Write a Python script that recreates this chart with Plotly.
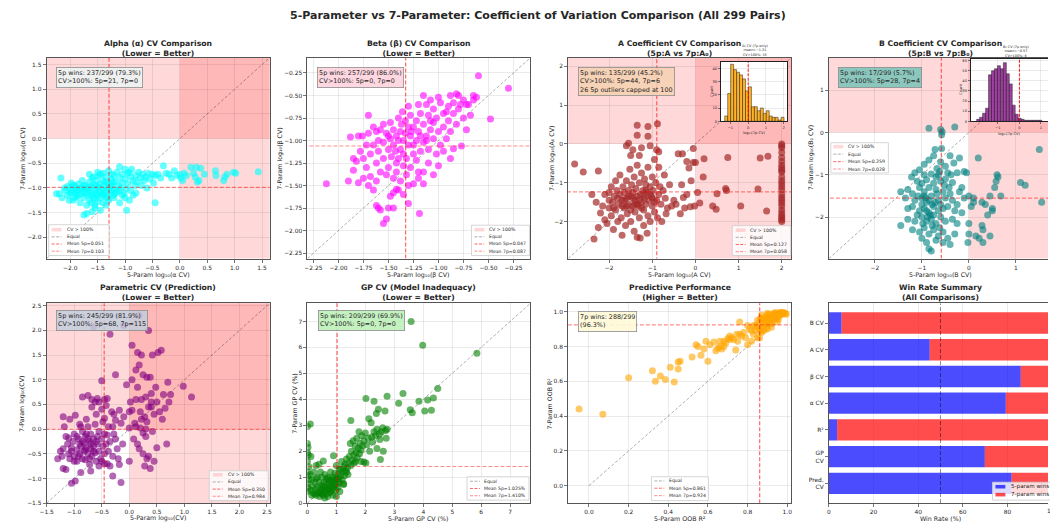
import math
import plotly.graph_objects as go

W, H = 1050, 525
FONT = "DejaVu Sans"
TXT = "#262626"
SPINE = "#555555"

# ------------------------------------------------------------------ data
alpha_pts = [(-2.2,-1.12),(-2.25,-1.12),(-2.17,-0.8),(-2.15,-1.2),(-2.1,-1.0),(-2.1,-1.05),(-2.05,-0.97),(-2.05,-1.15),(-2.0,-1.02),(-2.0,-1.1),
 (-1.98,-0.9),(-1.95,-1.05),(-1.95,-1.25),(-1.92,-0.95),(-1.9,-1.1),(-1.9,-1.0),(-1.88,-1.18),(-1.85,-0.92),(-1.85,-1.05),(-1.82,-1.3),
 (-1.8,-1.0),(-1.8,-1.12),(-1.78,-0.85),(-1.75,-1.08),(-1.75,-1.2),(-1.75,-1.55),(-1.72,-0.95),(-1.7,-1.02),(-1.7,-1.52),(-1.7,-1.35),
 (-1.68,-1.15),(-1.65,-0.88),(-1.65,-1.05),(-1.65,-1.25),(-1.62,-0.98),(-1.6,-1.1),(-1.6,-1.48),(-1.6,-0.8),(-1.58,-1.2),(-1.55,-0.95),
 (-1.55,-1.05),(-1.55,-1.35),(-1.52,-0.85),(-1.5,-1.0),(-1.5,-1.15),(-1.5,-1.28),(-1.48,-0.75),(-1.47,-1.08),(-1.45,-0.72),(-1.45,-0.92),
 (-1.45,-1.2),(-1.45,-1.45),(-1.42,-1.02),(-1.4,-0.7),(-1.4,-0.85),(-1.4,-1.12),(-1.4,-1.3),(-1.38,-0.95),(-1.35,-1.05),(-1.35,-0.78),
 (-1.35,-1.18),(-1.32,-0.9),(-1.3,-1.0),(-1.3,-1.25),(-1.3,-0.65),(-1.28,-1.1),(-1.25,-0.82),(-1.25,-0.95),(-1.22,-1.15),(-1.2,-1.02),
 (-1.2,-0.75),(-1.18,-0.88),(-1.15,-1.08),(-1.15,-0.68),(-1.12,-0.95),(-1.1,-0.57),(-1.1,-0.8),(-1.1,-1.3),(-1.08,-1.0),(-1.05,-0.72),
 (-1.05,-0.9),(-1.02,-1.12),(-1.0,-0.62),(-1.0,-0.82),(-1.0,-1.2),(-0.98,-1.02),(-0.97,-1.45),(-0.95,-0.7),(-0.95,-0.92),(-0.92,-1.25),
 (-0.9,-0.78),(-0.9,-1.05),(-0.88,-0.62),(-0.85,-0.85),(-0.85,-1.15),(-0.82,-0.95),(-0.8,-0.75),(-0.8,-1.1),(-0.78,-0.88),(-0.75,-0.68),
 (-0.72,-0.8),(-0.7,-0.95),(-0.68,-0.72),(-0.65,-0.85),(-0.62,-0.78),(-0.6,-1.0),(-0.58,-0.7),(-0.55,-0.82),(-0.5,-0.72),(-0.48,-0.9),
 (-0.45,-1.3),(-0.45,-0.75),(-0.4,-0.72),(-0.35,-0.8),(-0.3,-0.55),(-0.25,-0.7),(-0.2,-0.72),(-0.15,-0.8),(-0.1,-0.65),(-0.05,-0.75),
 (0.0,-0.72),(0.05,-0.85),(0.08,-0.7),(0.12,-0.75),(0.2,-0.58),(0.25,-0.7),(0.28,-0.78),(0.3,-0.58),(0.32,-0.88),(0.35,-0.85),
 (0.38,-0.6),(0.45,-0.72),(0.65,-0.65),(0.66,-0.75),(0.8,-0.85),(0.82,-0.78),(0.86,-0.72),(0.98,-0.68),(1.02,-0.7),(1.43,-0.67),(0.02,-0.8),
 (-1.95,-0.95),(-1.88,-1.05),(-1.78,-1.0),(-1.72,-1.1),(-1.68,-1.0),(-1.62,-1.15),(-1.58,-0.92),(-1.52,-1.1),(-1.48,-0.98),(-1.42,-1.15),
 (-1.38,-1.08),(-1.35,-0.88),(-1.32,-1.2),(-1.28,-0.95),(-1.25,-1.05),(-1.22,-0.88),(-1.18,-1.1),(-1.12,-1.05),(-1.62,-1.3),(-1.55,-1.22),
 (-1.85,-1.15),(-2.02,-1.25),(-1.92,-1.2),(-1.98,-1.1),(-1.75,-0.95),(-1.55,-1.4),(-1.35,-1.35),(-1.2,-1.2),(-1.05,-1.15),(-1.65,-0.72),
 (-1.58,-0.78),(-1.5,-0.68),(-1.25,-0.72),(-0.92,-0.68)]

beta_pts = [(-2.12,-1.48),(-1.88,-0.96),(-1.9,-1.45),(-1.8,-1.47),(-1.82,-1.23),(-1.85,-1.33),(-1.78,-1.12),(-1.76,-0.95),(-1.72,-1.05),(-1.7,-0.72),
 (-1.68,-1.4),(-1.65,-1.55),(-1.62,-1.72),(-1.6,-1.75),(-1.58,-1.77),(-1.55,-1.92),(-1.52,-1.87),(-1.5,-1.75),(-1.48,-1.62),(-1.45,-1.58),
 (-1.42,-1.54),(-1.4,-1.55),(-1.35,-1.6),(-1.3,-1.5),(-1.25,-1.48),(-1.19,-1.81),(-1.2,-1.35),(-1.15,-1.35),(-0.6,-0.28),(-0.3,-0.42),
 (-0.48,-0.76),(-0.77,-1.06),(-0.85,-1.09),(-0.65,-0.5),(-0.65,-0.55),(-0.68,-0.72),(-0.72,-0.6),(-0.75,-0.55),(-0.78,-0.6),(-0.8,-0.5),
 (-0.82,-0.48),(-0.85,-0.58),(-0.88,-0.5),(-0.9,-0.62),(-0.92,-0.68),(-0.95,-0.7),(-0.98,-0.58),(-1.0,-0.52),(-1.02,-0.75),(-1.05,-0.8),
 (-1.05,-0.65),(-1.08,-0.88),(-1.1,-0.72),(-1.12,-0.6),(-1.12,-0.95),(-1.15,-0.82),(-1.18,-0.7),(-1.2,-0.9),(-1.22,-0.78),(-1.22,-1.0),
 (-1.25,-0.85),(-1.25,-1.15),(-1.28,-0.72),(-1.28,-0.95),(-1.3,-1.05),(-1.3,-0.85),(-1.32,-1.2),(-1.33,-0.78),(-1.33,-0.92),(-1.35,-1.0),
 (-1.35,-1.28),(-1.36,-0.68),(-1.38,-1.1),(-1.38,-0.9),(-1.4,-1.0),(-1.4,-1.2),(-1.42,-0.95),(-1.42,-1.35),(-1.45,-1.05),(-1.45,-0.88),
 (-1.47,-1.18),(-1.48,-0.98),(-1.5,-1.1),(-1.5,-1.3),(-1.52,-0.92),(-1.55,-1.02),(-1.55,-1.2),(-1.58,-0.88),(-1.58,-1.35),(-1.6,-1.12),
 (-1.62,-0.9),(-1.62,-1.25),(-1.65,-1.05),(-1.68,-1.15),(-1.7,-0.92),(-1.72,-1.3),(-1.75,-1.2),(-1.6,-1.0),(-1.52,-1.38),(-1.45,-1.42),
 (-1.38,-1.45),(-1.32,-1.38),(-1.28,-1.3),(-1.22,-1.22),(-1.18,-1.12),(-1.15,-1.02),(-1.1,-1.1),(-1.05,-0.98),(-1.02,-1.15),(-1.0,-0.9),
 (-0.98,-1.05),(-0.95,-0.85),(-0.92,-0.98),(-0.9,-0.78),(-0.88,-0.9),(-0.85,-0.7),(-0.82,-0.82),(-0.8,-0.65),(-0.75,-0.75),(-0.7,-0.6),
 (-1.08,-0.55),(-1.15,-0.5),(-1.2,-0.6),(-1.3,-0.62),(-1.4,-0.75),(-1.48,-0.8),(-1.55,-0.82),(-1.65,-0.85),(-1.8,-0.95),(-1.85,-1.2),
 (-1.75,-1.42),(-1.7,-1.5),(-1.42,-1.25),(-1.35,-1.15),(-1.25,-1.05),(-1.2,-1.42),(-1.1,-1.25),(-1.0,-1.28),(-1.3,-1.7),(-1.45,-1.75),
 (-1.62,-1.45),(-1.12,-1.0),(-0.95,-1.12),(-1.27,-0.9),(-1.37,-0.82),(-1.43,-1.12),(-1.5,-0.95),(-1.18,-0.95),(-1.08,-0.78),(-0.62,-0.52),
 (-0.72,-0.88),(-0.88,-1.2),(-1.15,-1.48),(-1.05,-1.38)]

acoef_pts = [(-2.8,-0.52),(-2.6,-0.72),(-2.4,-1.3),(-2.35,-2.45),(-2.3,-1.5),(-2.25,-0.7),(-2.2,-1.78),(-2.15,-1.6),(-2.1,-1.95),(-2.05,-2.05),
 (-2.0,-1.65),(-2.0,-1.25),(-1.95,-1.1),(-1.95,-1.85),(-1.92,-1.5),(-1.9,-2.2),(-1.88,-1.35),(-1.85,-0.95),(-1.85,-1.7),(-1.82,-1.2),
 (-1.8,-2.0),(-1.78,-1.55),(-1.75,-1.3),(-1.75,-0.8),(-1.72,-1.9),(-1.7,-1.45),(-1.7,-2.35),(-1.68,-1.1),(-1.65,-1.65),(-1.65,-1.25),
 (-1.62,-2.1),(-1.6,-1.4),(-1.6,-0.95),(-1.58,-1.8),(-1.55,-1.2),(-1.55,-1.55),(-1.52,-0.65),(-1.5,-1.35),(-1.5,-2.0),(-1.48,-1.05),
 (-1.45,-1.6),(-1.45,-1.25),(-1.42,-2.25),(-1.42,-0.85),(-1.4,-1.45),(-1.4,-1.75),(-1.38,-1.15),(-1.35,-2.4),(-1.35,-1.35),(-1.35,-0.55),
 (-1.32,-1.6),(-1.3,-1.0),(-1.3,-1.9),(-1.28,-1.3),(-1.28,-2.42),(-1.25,-1.5),(-1.25,-0.75),(-1.22,-1.2),(-1.2,-1.7),(-1.2,-2.1),
 (-1.18,-1.4),(-1.18,-0.9),(-1.15,-1.05),(-1.15,-1.55),(-1.12,-1.25),(-1.12,-2.3),(-1.1,-1.85),(-1.1,-0.6),(-1.08,-1.45),(-1.05,-1.1),
 (-1.05,-2.0),(-1.02,-1.35),(-1.0,-0.85),(-1.0,-1.6),(-0.98,-1.2),(-0.95,-1.75),(-0.95,-0.4),(-0.92,-1.0),(-0.9,-1.45),(-0.9,-0.15),
 (-0.88,-1.9),(-0.85,-1.3),(-0.85,-0.6),(-0.82,-1.1),(-0.8,-1.55),(-0.78,-2.0),(-0.75,-1.2),(-0.72,-0.8),(-0.7,-1.4),(-0.68,-1.8),
 (-0.65,-1.65),(-0.6,-1.05),(-0.55,-1.6),(-0.5,-1.45),(-0.45,-1.55),
 (-1.35,0.48),(-1.1,0.45),(-0.88,0.52),(-1.35,0.22),(-1.1,0.2),(-1.55,0.02),(-1.6,-0.05),(-1.45,-0.15),(-1.25,-0.1),(-1.05,-0.05),
 (-1.5,-0.3),(-1.3,-0.3),(-0.85,-0.2),(-0.05,-0.12),
 (-0.4,-0.25),(-0.3,-0.25),(-0.2,-0.45),(-0.15,-0.62),(-0.1,-0.95),(-0.05,-0.48),(0.0,-0.48),(0.05,-1.25),(-0.02,-1.6),(0.1,-1.52),
 (0.2,-0.38),(0.18,-0.85),(0.4,-1.6),(0.48,-1.68),(0.5,-1.28),(0.75,-0.35),(0.7,-1.15),(0.72,-1.2),(1.05,-1.6),(1.45,-1.16),
 (1.5,-0.36),(1.68,-0.32),(1.65,-1.73),(-0.35,-1.8),(-0.25,-1.65),(-0.28,-1.38),(-0.32,-1.05),(-0.2,-1.3),(-0.12,-1.62),
 (2.0,0.0),(2.0,-0.1),(2.0,-0.22),(2.0,-0.35),(2.0,-0.45),(2.0,-0.55),(2.0,-0.62),(2.0,-0.72),(2.0,-0.85),(2.0,-0.95),
 (2.0,-1.02),(2.0,-1.1),(2.0,-1.18),(2.0,-1.3),(2.0,-1.38),(2.0,-1.45),(2.0,-1.52),(2.0,-1.6),(2.0,-1.7),(2.0,-1.78),
 (2.0,-1.85),(2.0,-1.9),(2.0,-1.95),(2.0,-2.0),(2.0,-0.05),(2.0,-0.68),
 (-2.25,-2.15),(-2.1,-1.3),(-2.0,-1.45),(-1.8,-1.4),(-1.6,-1.6),(-1.4,-1.55),(-1.2,-1.35),(-1.0,-1.4),(-1.5,-1.7),(-1.3,-1.45),
 (-1.65,-1.45),(-1.55,-1.35),(-1.45,-1.4),(-1.35,-1.55),(-1.25,-1.65),(-1.15,-1.2),(-1.05,-1.3),(-0.95,-1.5),(-1.7,-1.6),(-1.9,-1.65)]

bcoef_pts = [(-0.85,0.1),(-0.6,0.07),(-0.57,0.02),(-0.3,0.13),(-0.58,-0.05),(-0.58,-0.38),(-0.72,-0.4),(-0.75,-0.55),(-0.6,-0.7),(-0.4,-0.55),
 (-0.2,-0.6),(-0.32,-0.72),(-0.95,-0.75),(-0.85,-0.65),(-0.68,-0.85),(-0.5,-0.8),(-1.15,-0.95),(-1.05,-0.88),(-0.95,-1.0),(-0.8,-0.98),
 (-0.65,-1.0),(-0.45,-0.95),(-0.25,-0.95),(-0.1,-0.92),(-0.05,-0.95),(-1.22,-1.05),(-1.1,-1.15),(-1.0,-1.2),(-0.9,-1.12),(-0.75,-1.2),
 (-0.6,-1.15),(-0.5,-1.1),(-0.35,-1.18),(-0.15,-1.3),(-1.45,-1.4),(-1.3,-1.35),(-1.2,-1.45),(-1.05,-1.3),(-0.95,-1.4),(-0.85,-1.3),
 (-0.7,-1.35),(-0.55,-1.4),(-0.4,-1.45),(-0.2,-1.4),(-1.35,-1.55),(-1.15,-1.6),(-1.0,-1.55),(-0.9,-1.65),(-0.8,-1.5),(-0.65,-1.6),
 (-0.5,-1.55),(-0.35,-1.6),(-0.25,-1.7),(-0.1,-1.55),(-1.3,-1.8),(-1.2,-1.75),(-1.05,-1.85),(-0.95,-1.8),(-0.85,-1.9),(-0.75,-1.75),
 (-0.65,-1.85),(-0.55,-1.8),(-0.45,-1.75),(-0.3,-1.85),(-0.15,-1.9),(-1.45,-2.2),(-1.3,-2.05),(-1.15,-2.1),(-1.0,-2.0),(-0.9,-2.1),
 (-0.8,-2.05),(-0.7,-2.15),(-0.6,-2.0),(-0.5,-2.1),(-0.35,-2.05),(-0.25,-2.15),(-1.2,-2.3),(-1.05,-2.35),(-0.95,-2.25),(-0.85,-2.4),
 (-0.75,-2.3),(-0.65,-2.45),(-0.55,-2.35),(-0.45,-2.5),(-0.3,-2.4),(-1.0,-2.5),(-0.9,-2.6),(-0.7,-2.55),(-0.55,-2.6),(-0.4,-2.65),
 (-0.85,-2.75),(-0.8,-2.8),(-0.95,-1.5),(-0.85,-1.6),(-0.78,-1.7),(-0.9,-1.85),(-0.82,-1.95),(-0.75,-1.95),(-0.88,-2.0),(-0.72,-1.65),
 (-0.68,-1.45),(-0.92,-1.55),(-1.0,-1.7),(-0.78,-2.2),(-0.62,-2.25),(-1.1,-1.95),(-0.98,-2.15),(-0.7,-1.05),(-0.62,-0.92),(-0.52,-1.25),
 (-0.42,-1.3),(-0.38,-1.0),(-1.08,-1.5),(-0.6,-1.7),
 (0.0,-1.5),(0.05,-1.75),(0.2,-0.6),(0.1,-1.55),(0.1,-1.65),(0.0,-2.15),(0.0,-2.4),(0.15,-2.45),(0.22,-2.5),(0.3,-2.3),
 (0.28,-2.2),(0.4,-1.95),(0.45,-2.45),(0.28,-1.65),(0.5,-1.8),(0.5,-1.85),(0.45,-1.5),(0.6,-1.0),(0.58,-1.15),(0.55,-1.3),
 (0.68,-1.5),(1.1,-1.18),(1.2,-1.25),(1.5,-0.4),(1.55,-1.65),(0.62,-1.05),(0.35,-1.7),(0.3,-2.6),(-0.02,-2.6)]

param_pts = [(-1.3,-0.6),(-1.25,-0.45),(-1.2,-0.8),(-1.2,0.25),(-1.18,0.05),(-1.15,-0.15),(-1.15,-0.82),(-1.12,-0.3),(-1.1,-0.5),(-1.1,-0.18),
 (-1.08,-0.6),(-1.05,-0.38),(-1.05,-1.1),(-1.02,-0.25),(-1.0,-0.55),(-1.0,-0.1),(-0.98,-1.05),(-0.98,0.28),(-0.95,-0.42),(-0.95,-0.65),
 (-0.92,-0.2),(-0.9,-0.5),(-0.9,0.1),(-0.88,-0.35),(-0.88,-0.88),(-0.85,-0.6),(-0.85,-0.05),(-0.85,0.65),(-0.82,-0.28),(-0.82,-0.45),
 (-0.8,-0.15),(-0.8,-0.62),(-0.78,0.2),(-0.78,-0.38),(-0.75,-0.5),(-0.75,0.05),(-0.75,0.68),(-0.72,-0.25),(-0.72,-0.6),(-0.7,-0.1),
 (-0.7,-0.4),(-0.7,-0.85),(-0.68,0.45),(-0.68,-0.55),(-0.65,-0.2),(-0.65,-0.35),(-0.62,0.1),(-0.62,-0.48),(-0.6,-0.65),(-0.6,0.3),
 (-0.58,-0.15),(-0.58,-0.3),(-0.55,0.55),(-0.55,-0.45),(-0.55,-0.05),(-0.52,-0.6),(-0.5,0.4),(-0.5,-0.2),(-0.5,0.98),(-0.48,-0.35),
 (-0.48,0.15),(-0.45,-0.5),(-0.45,-0.1),(-0.45,0.22),(-0.42,-0.3),(-0.42,0.48),(-0.4,-0.7),(-0.4,-0.12),(-0.38,0.05),(-0.38,-0.45),
 (-0.35,-0.25),(-0.35,-0.75),(-0.32,0.35),(-0.3,-0.55),(-0.3,-0.95),(-0.28,-0.1),(-0.25,1.1),(-0.25,0.18),(-0.22,-0.4),(-0.2,-0.6),
 (-0.18,0.38),(-0.18,-0.72),(-0.15,0.12),(-0.15,-1.08),(-0.12,-0.3),(-0.1,0.25),(-0.1,2.1),(-0.35,1.92),(-0.65,2.07),(-0.45,-0.7),
 (-0.85,-0.25),(-0.95,-0.15),(-1.05,-0.45),(-0.9,-0.3),(-0.75,-0.2),(-0.65,-0.45),(-0.8,-0.42),(-0.7,-0.3),(-0.92,-0.55),(-0.6,-0.25),
 (-0.78,-0.1),(-1.2,-0.4),(-1.22,-0.55),(-0.55,-0.75),(-0.5,-0.65),(-0.68,0.6),(-0.62,0.55),(-0.45,0.6),(-0.4,0.62),(-0.28,0.3),
 (-0.25,-0.2),(-0.58,0.62),(-0.3,0.05),(-0.72,-0.72),(-1.0,-0.65),(-0.88,0.05),(-1.08,0.2),
 (0.0,0.02),(0.05,0.38),(0.0,-0.65),(0.02,0.55),(-0.05,0.9),(0.05,1.0),(0.05,1.7),(0.08,-0.2),(0.1,0.12),(0.12,0.6),
 (0.12,1.2),(0.15,1.55),(0.15,0.85),(0.18,-0.4),(0.18,1.3),(0.2,0.35),(0.2,0.02),(0.22,1.5),(0.22,0.6),(0.25,-0.08),
 (0.25,1.1),(0.28,0.25),(0.3,0.65),(0.3,-0.15),(0.32,1.05),(0.32,0.15),(0.35,0.45),(0.35,-0.55),(0.35,2.0),(0.38,1.05),
 (0.38,-0.8),(0.4,0.72),(0.4,0.45),(0.42,-0.05),(0.42,1.5),(0.45,0.3),(0.45,-0.65),(0.48,0.85),(0.5,0.55),(0.5,-0.38),
 (0.52,1.55),(0.55,0.35),(0.58,1.6),(0.6,0.2),(0.62,0.7),(0.65,0.42),(0.68,-0.3),(0.7,0.95),(0.72,0.55),(0.75,0.7),
 (0.98,0.87),(1.13,0.65),(0.28,-0.75),(0.32,-0.6),(0.25,-0.5),(0.15,-0.3),(0.4,0.55),(0.22,0.2),(0.3,0.0),(0.12,0.05),
 (0.18,2.3),(0.0,0.35)]

gp_pts = [(0.0,2.95),(0.0,2.3),(0.02,2.15),(0.0,1.95),(0.03,1.85),(0.0,1.6),(0.05,1.4),(0.0,1.2),(0.02,1.05),(0.05,0.9),
 (0.0,0.75),(0.03,0.6),(0.0,0.45),(0.1,3.05),(0.12,1.8),(0.1,1.1),(0.1,0.5),
 (0.15,0.9),(0.18,0.65),(0.2,0.4),(0.22,1.2),(0.25,0.8),(0.28,0.55),(0.3,1.45),(0.3,0.3),(0.35,1.0),(0.35,0.6),
 (0.38,0.4),(0.4,1.5),(0.4,0.8),(0.42,0.25),(0.45,1.2),(0.45,0.5),(0.48,0.7),(0.5,0.35),(0.5,1.0),(0.52,0.55),
 (0.55,1.62),(0.55,0.3),(0.58,0.8),(0.6,0.45),(0.6,1.1),(0.62,0.6),(0.65,0.35),(0.65,0.9),(0.68,0.5),(0.7,0.7),
 (0.7,0.25),(0.72,1.0),(0.75,0.55),(0.75,0.8),(0.78,0.4),(0.8,0.65),(0.8,1.2),(0.82,0.9),(0.85,0.5),(0.85,0.75),
 (0.88,0.3),(0.88,1.0),(0.9,0.6),(0.9,1.82),(0.92,0.85),(0.95,0.7),(0.95,1.15),(0.98,0.5),(1.0,0.9),(1.0,1.45),
 (1.02,0.75),(1.05,1.1),(1.05,0.6),(1.08,0.95),(1.1,1.3),(1.1,0.8),(1.12,0.45),(1.15,1.05),(1.18,1.6),(1.2,0.9),
 (1.22,1.2),(1.25,0.75),(1.25,1.4),(1.28,1.05),(1.3,1.5),(1.32,1.25),(1.35,1.7),(1.38,1.35),(1.4,1.1),(1.42,1.55),
 (1.45,1.8),(1.48,2.3),(1.5,3.18),(1.5,1.45),(1.52,2.0),(1.55,1.65),(1.58,2.4),(1.6,1.85),(1.62,1.55),(1.65,2.2),
 (1.68,1.95),(1.7,2.5),(1.72,1.75),(1.75,2.1),(1.78,2.75),(1.8,1.9),(1.82,2.3),(1.85,2.05),(1.88,2.6),(1.9,2.2),
 (1.95,2.4),(1.95,1.58),(2.0,2.7),(2.02,4.03),(2.02,1.55),(2.05,2.25),(2.1,2.5),(2.12,3.25),(2.15,2.0),(2.2,3.1),
 (2.22,2.55),(2.25,2.35),(2.3,3.92),(2.3,2.75),(2.35,2.6),(2.38,3.45),(2.4,2.85),(2.45,3.62),(2.48,2.65),(2.5,2.45),
 (2.52,1.68),(2.55,2.75),(2.6,2.9),(2.62,2.0),(2.68,3.55),(2.7,2.8),(2.72,2.5),(2.75,4.12),(2.75,2.85),(3.15,3.85),
 (3.3,4.22),(3.55,3.6),(3.58,7.0),(3.62,3.48),(3.85,3.92),(3.98,6.08),(4.05,3.55),(4.15,3.97),(4.28,3.58),(4.35,4.05),
 (4.5,4.42),(5.85,5.77),(1.25,0.72),(0.7,0.95),(0.3,0.95),(0.15,0.3),(1.0,0.25),(0.6,0.2),(1.35,1.2),(1.15,1.3),
 (0.25,0.35),(0.45,0.4),(0.55,0.65),(0.8,0.45),(0.95,0.95),(1.85,1.6),(1.65,1.6),(2.4,2.1)]

r2_pts = [(-0.05,0.44),(0.07,0.41),(0.2,0.62),(0.32,0.66),(0.335,0.6),(0.36,0.63),(0.385,0.61),(0.41,0.68),(0.43,0.595),(0.45,0.71),
 (0.45,0.67),(0.46,0.715),(0.52,0.74),(0.54,0.81),(0.565,0.75),(0.58,0.785),(0.59,0.83),(0.6,0.715),(0.61,0.81),(0.63,0.825),
 (0.64,0.775),(0.65,0.79),(0.66,0.83),(0.67,0.785),(0.68,0.83),(0.69,0.82),(0.7,0.845),(0.71,0.84),(0.72,0.85),(0.73,0.84),
 (0.74,0.78),(0.745,0.87),(0.75,0.83),(0.76,0.94),(0.77,0.86),(0.78,0.88),(0.79,0.85),(0.8,0.81),(0.8,0.92),(0.81,0.9),
 (0.82,0.83),(0.82,0.89),(0.83,0.87),(0.84,0.92),(0.85,0.91),(0.85,0.85),(0.86,0.94),(0.865,0.89),(0.87,0.88),(0.87,0.96),
 (0.88,0.93),(0.88,0.96),(0.89,0.9),(0.89,0.97),(0.9,0.95),(0.9,0.92),(0.91,0.97),(0.91,0.94),(0.92,0.975),(0.92,0.93),
 (0.925,0.96),(0.93,0.98),(0.93,0.95),(0.94,0.97),(0.94,0.985),(0.945,0.96),(0.95,0.98),(0.95,0.99),(0.955,0.97),(0.96,0.985),
 (0.96,0.99),(0.965,0.98),(0.97,0.99),(0.97,0.995),(0.975,0.985),(0.98,0.99),(0.98,0.995),(0.985,0.99),(0.99,0.99),(0.995,0.985),
 (0.9,0.98),(0.885,0.95),(0.875,0.92),(0.86,0.9),(0.895,0.93),(0.905,0.965),(0.915,0.95),(0.935,0.965),(0.955,0.955),(0.865,0.96),
 (0.85,0.95),(0.84,0.89),(0.83,0.92),(0.88,0.89),(0.9,0.9),(0.92,0.91),(0.95,0.94),(0.91,0.985),(0.94,0.995),(0.965,0.995),
 (0.93,0.99),(0.9,0.99),(0.87,0.98),(0.86,0.85),(0.76,0.87),(0.71,0.86),(0.68,0.8),(0.66,0.8),(0.55,0.8)]

mean_5p = {"alpha": 0.051, "beta": 0.047, "A": 0.127, "B": 0.259, "param": 0.350, "gp": 1.025, "r2": 0.861}
mean_7p = {"alpha": 0.103, "beta": 0.087, "A": 0.058, "B": 0.028, "param": 0.984, "gp": 1.410, "r2": 0.924}

histA_start, histA_width = -1.32, 0.167
histA_counts = [4, 21, 43, 39, 37, 35, 32, 23, 26, 11, 11, 8, 10, 6, 8, 4, 3, 3, 1, 3]
histB_start, histB_width = -1.99, 0.138
histB_counts = [2, 4, 8, 13, 46, 50, 52, 55, 52, 58, 47, 37, 16, 7, 3, 2, 1, 1, 1, 1, 1, 1]

win_labels = ["Pred.<br>CV", "GP<br>CV", "R\u00b2", "\u03b1 CV", "\u03b2 CV", "A CV", "B CV"]
win_5p = [81.9, 69.9, 3.7, 79.3, 86.0, 45.2, 5.7]
win_7p = [18.1, 30.1, 96.3, 20.7, 14.0, 54.8, 94.3]

# ------------------------------------------------------------------ helpers
def fx(p):
    return p / W

def fy(p):
    return 1 - p / H

fig = go.Figure()
layout = dict(width=W, height=H, autosize=False, margin=dict(l=0, r=0, t=0, b=0),
              paper_bgcolor="white", plot_bgcolor="white", showlegend=False,
              barmode="overlay", font=dict(family=FONT, color=TXT))
shapes, annos = [], []

def sfx(i):
    return "" if i == 1 else str(i)

def make_axis(i, which, lo_px, hi_px, rng, tickvals, fmt=None, grid=True, mirror=True,
              ticktext=None, fs=5.9, ticklen=3):
    if which == "x":
        dom = [fx(lo_px), min(1.0, fx(hi_px))]
        anchor = "y" + sfx(i)
        key = "xaxis" + sfx(i)
    else:
        dom = [fy(hi_px), fy(lo_px)]
        anchor = "x" + sfx(i)
        key = "yaxis" + sfx(i)
    d = dict(domain=dom, range=rng, tickmode="array", tickvals=tickvals, showgrid=grid,
             gridcolor="rgba(0,0,0,0.1)", gridwidth=0.8, zeroline=False, showline=True,
             linecolor=SPINE, linewidth=1, mirror=mirror, ticks="outside", ticklen=ticklen,
             tickwidth=0.8, tickcolor=SPINE, tickfont=dict(family=FONT, size=fs, color=TXT),
             fixedrange=True, anchor=anchor, layer="above traces")
    if fmt:
        d["tickformat"] = fmt
    if ticktext:
        d["ticktext"] = ticktext
    layout[key] = d

def text(x, y, s, size, xanchor="center", yanchor="middle", angle=0, color=TXT, **kw):
    annos.append(dict(x=fx(x), y=fy(y), xref="paper", yref="paper", text=s, showarrow=False,
                      xanchor=xanchor, yanchor=yanchor, textangle=angle,
                      font=dict(family=FONT, size=size, color=color), **kw))

def line_trace(i, xs, ys, color, width, dash):
    fig.add_trace(go.Scatter(x=xs, y=ys, mode="lines", line=dict(color=color, width=width, dash=dash),
                             xaxis="x" + sfx(i), yaxis="y" + sfx(i), hoverinfo="skip", showlegend=False))

MEAN5 = "rgba(255,0,0,0.6)"
MEAN7 = "rgba(255,0,0,0.45)"
DIAG = "rgba(0,0,0,0.32)"
SHADE = "rgba(255,0,0,0.15)"

def legend_box(x0, y0, x1, y1, rows, items, sym_x0, sym_x1, text_x, fs=4.6):
    shapes.append(dict(type="rect", xref="paper", yref="paper", x0=fx(x0), x1=fx(x1), y0=fy(y1), y1=fy(y0),
                       fillcolor="rgba(255,255,255,0.8)", line=dict(color="#cccccc", width=0.8), layer="above"))
    for (kind, color, label), yy in zip(items, rows):
        if kind == "patch":
            shapes.append(dict(type="rect", xref="paper", yref="paper", x0=fx(sym_x0), x1=fx(sym_x1),
                               y0=fy(yy + 1.8), y1=fy(yy - 1.8), fillcolor=color, line=dict(width=0), layer="above"))
        else:
            shapes.append(dict(type="line", xref="paper", yref="paper", x0=fx(sym_x0), x1=fx(sym_x1),
                               y0=fy(yy), y1=fy(yy), line=dict(color=color, width=1, dash="3px,1.5px"), layer="above"))
        text(text_x, yy, label, fs, xanchor="left")

def info_box(x, y, s, bg, fs=6.4):
    annos.append(dict(x=fx(x), y=fy(y), xref="paper", yref="paper", text=s, showarrow=False,
                      xanchor="left", yanchor="top", align="left", bgcolor=bg, bordercolor="#8c8c8c",
                      borderwidth=0.8, borderpad=1.3, font=dict(family=FONT, size=fs, color=TXT)))

def scatter_panel(i, pts, color, opacity, box, rng, ticks, fmt, shade, diag, m5, m7):
    x0, y0, x1, y1 = box
    xr, yr = rng
    make_axis(i, "x", x0, x1, xr, ticks[0], fmt[0], mirror=True)
    make_axis(i, "y", y0, y1, yr, ticks[1], fmt[1], mirror=(x1 <= 1000))
    xa, ya = "x" + sfx(i), "y" + sfx(i)
    if shade:
        shapes.append(dict(type="rect", xref=xa, yref=ya, x0=0, x1=xr[1] + 1, y0=yr[0] - 1, y1=yr[1] + 1,
                           fillcolor=SHADE, line=dict(width=0), layer="below"))
        shapes.append(dict(type="rect", xref=xa, yref=ya, x0=xr[0] - 1, x1=xr[1] + 1, y0=0, y1=yr[1] + 1,
                           fillcolor=SHADE, line=dict(width=0), layer="below"))
    line_trace(i, [diag[0], diag[1]], [diag[0], diag[1]], DIAG, 1, "3px,2px")
    fig.add_trace(go.Scatter(x=[p[0] for p in pts], y=[p[1] for p in pts], mode="markers",
                             marker=dict(color=color, size=7, opacity=opacity, line=dict(width=0)),
                             xaxis=xa, yaxis=ya, hoverinfo="skip", showlegend=False))
    line_trace(i, [m5, m5], [yr[0] - 1, yr[1] + 1], MEAN5, 1.2, "4px,2px")
    line_trace(i, [xr[0] - 1, xr[1] + 1], [m7, m7], MEAN7, 1.2, "4px,2px")

L = math.log10

# ------------------------------------------------------------------ panels
lim1 = [-2.43, 1.64]
scatter_panel(1, alpha_pts, "#00FFFF", 0.6, (40, 58, 265, 260), (lim1, lim1),
              ([-2.0, -1.5, -1.0, -0.5, 0.0, 0.5, 1.0, 1.5], [-2.0, -1.5, -1.0, -0.5, 0.0, 0.5, 1.0, 1.5]),
              (".1f", ".1f"), True, lim1, L(mean_5p["alpha"]), L(mean_7p["alpha"]))
lim2 = [-2.31, -0.08]
t2 = [-2.25, -2.0, -1.75, -1.5, -1.25, -1.0, -0.75, -0.5, -0.25]
scatter_panel(2, beta_pts, "#FF00FF", 0.6, (303, 58, 528, 260), (lim2, lim2), (t2, t2),
              (".2f", ".2f"), False, lim2, L(mean_5p["beta"]), L(mean_7p["beta"]))
lim3 = [-2.95, 2.22]
scatter_panel(3, acoef_pts, "#A52A2A", 0.7, (566, 58, 791, 260), (lim3, lim3),
              ([-2, -1, 0, 1, 2], [-2, -1, 0, 1, 2]), ("d", "d"), True, lim3,
              L(mean_5p["A"]), L(mean_7p["A"]))
lim4 = [-2.98, 1.77]
scatter_panel(4, bcoef_pts, "#008080", 0.6, (829, 58, 1050, 260), ([-2.98, 1.685], lim4),
              ([-2, -1, 0, 1], [-2, -1, 0, 1]), ("d", "d"), True, lim4,
              L(mean_5p["B"]), L(mean_7p["B"]))
lim5 = [-1.5, 2.55]
t5 = [-1.5, -1.0, -0.5, 0.0, 0.5, 1.0, 1.5, 2.0, 2.5]
scatter_panel(5, param_pts, "#800080", 0.6, (40, 305, 265, 506), (lim5, lim5), (t5, t5),
              (".1f", ".1f"), True, lim5, L(mean_5p["param"]), L(mean_7p["param"]))
lim6 = [0, 7.7]
t6 = [0, 1, 2, 3, 4, 5, 6, 7]
scatter_panel(6, gp_pts, "#008000", 0.6, (303, 305, 528, 506), (lim6, lim6), (t6, t6),
              ("d", "d"), False, lim6, mean_5p["gp"], mean_7p["gp"])
t7 = [0.0, 0.2, 0.4, 0.6, 0.8, 1.0]
scatter_panel(7, r2_pts, "#FFA500", 0.6, (566, 305, 791, 506), ([-0.105, 1.02], [-0.1, 1.048]), (t7, t7),
              (".1f", ".1f"), False, [0, 1], mean_5p["r2"], mean_7p["r2"])

# panel 8: win rates
idx = list(range(len(win_labels)))
make_axis(8, "x", 829, 1050, [0, 98.2], [0, 20, 40, 60, 80], "d", grid=True, mirror=True)
make_axis(8, "y", 305, 506, [-0.74, 6.74], idx, None, grid=False, mirror=False, ticktext=win_labels)
fig.add_trace(go.Bar(x=win_5p, y=idx, orientation="h", width=0.8, marker=dict(color="rgba(0,0,255,0.7)", line=dict(width=0)),
                     xaxis="x8", yaxis="y8", hoverinfo="skip", showlegend=False))
fig.add_trace(go.Bar(x=win_7p, y=idx, base=win_5p, orientation="h", width=0.8,
                     marker=dict(color="rgba(255,0,0,0.7)", line=dict(width=0)),
                     xaxis="x8", yaxis="y8", hoverinfo="skip", showlegend=False))
line_trace(8, [50, 50], [-0.74, 6.74], "rgba(0,0,0,0.45)", 1, "4px,2px")
text(1055, 513.5, "100", 5.9)

# insets (histograms)
centersA = [histA_start + histA_width * (k + 0.5) for k in range(len(histA_counts))]
make_axis(9, "x", 720, 787, [-1.54, 2.2], [-1, 0, 1, 2], "d", fs=3.6, ticklen=2)
make_axis(9, "y", 62, 122, [0, 45], [0, 10, 20, 30, 40], "d", fs=3.6, ticklen=2)
layout["xaxis9"]["linecolor"] = "#222"
layout["yaxis9"]["linecolor"] = "#222"
fig.add_trace(go.Bar(x=centersA, y=histA_counts, width=histA_width,
                     marker=dict(color="rgba(255,165,0,0.85)", line=dict(color="#222", width=0.5)),
                     xaxis="x9", yaxis="y9", hoverinfo="skip", showlegend=False))
line_trace(9, [0, 0], [0, 45], "rgba(255,0,0,0.9)", 1, "3px,1.5px")

centersB = [histB_start + histB_width * (k + 0.5) for k in range(len(histB_counts))]
make_axis(10, "x", 972, 1050, [-2.27, 1.33], [-1, 0, 1], "d", fs=3.6, ticklen=2)
make_axis(10, "y", 59, 122, [0, 62], [0, 10, 20, 30, 40, 50, 60], "d", fs=3.6, ticklen=2, mirror=False)
layout["xaxis10"]["linecolor"] = "#222"
layout["yaxis10"]["linecolor"] = "#222"
fig.add_trace(go.Bar(x=centersB, y=histB_counts, width=histB_width,
                     marker=dict(color="rgba(128,0,128,0.75)", line=dict(color="#222", width=0.5)),
                     xaxis="x10", yaxis="y10", hoverinfo="skip", showlegend=False))
line_trace(10, [0, 0], [0, 62], "rgba(255,0,0,0.9)", 1, "3px,1.5px")

# ------------------------------------------------------------------ texts
text(536, 16, "<b>5-Parameter vs 7-Parameter: Coefficient of Variation Comparison (All 299 Pairs)</b>", 11.0)

titles = [
    (152.5, 49, "Alpha (\u03b1) CV Comparison<br>(Lower = Better)"),
    (415.5, 49, "Beta (\u03b2) CV Comparison<br>(Lower = Better)"),
    (678.5, 49, "A Coefficient CV Comparison<br>(5p:A vs 7p:A\u2080)"),
    (941.5, 49, "B Coefficient CV Comparison<br>(5p:B vs 7p:B\u2080)"),
    (152.5, 294, "Parametric CV (Prediction)<br>(Lower = Better)"),
    (415.5, 294, "GP CV (Model Inadequacy)<br>(Lower = Better)"),
    (678.5, 294, "Predictive Performance<br>(Higher = Better)"),
    (941.5, 294, "Win Rate Summary<br>(All Comparisons)"),
]
for x, y, s in titles:
    text(x, y, "<b>" + s + "</b>", 7.7)

LG = "log\u2081\u2080"
xlabels = [
    (152.5, 276.5, "5-Param " + LG + "(\u03b1 CV)"), (415.5, 276.5, "5-Param " + LG + "(\u03b2 CV)"),
    (678.5, 276.5, "5-Param " + LG + "(A CV)"), (941.5, 276.5, "5-Param " + LG + "(B CV)"),
    (152.5, 521, "5-Param " + LG + "(CV)"), (415.5, 521, "5-Param GP CV (%)"),
    (678.5, 521, "5-Param OOB R\u00b2"), (941.5, 521, "Win Rate (%)"),
]
for x, y, s in xlabels:
    text(x, y, s, 6.3)
ylabels = [
    (16, 159, "7-Param " + LG + "(\u03b1 CV)"), (275, 159, "7-Param " + LG + "(\u03b2 CV)"),
    (549.5, 159, "7-Param " + LG + "(A\u2080 CV)"), (811, 159, "7-Param " + LG + "(B\u2080 CV)"),
    (15, 405.5, "7-Param " + LG + "(CV)"), (290, 405.5, "7-Param GP CV (%)"),
    (547, 405.5, "7-Param OOB R\u00b2"),
]
for x, y, s in ylabels:
    text(x, y, s, 6.3, angle=-90)

# inset labels
text(711.5, 92, "Count", 3.6, angle=-90)
text(753.5, 134, LG + "(7p CV)", 3.6)
text(754, 51, "A\u2080 CV (7p only)<br>mean=\u22121.31<br>CV>100%: 15", 3.4)
text(962.5, 90, "Count", 3.6, angle=-90)
text(1011, 135, LG + "(7p CV)", 3.6)
text(1018, 52, "B\u2080 CV (7p only)<br>mean=\u22120.57<br>CV>100%: 8", 3.4)

# info boxes
info_box(49.5, 67.5, "5p wins: 237/299 (79.3%)<br>CV>100%: 5p=21, 7p=0", "rgba(232,250,250,0.7)")
info_box(313, 67.5, "5p wins: 257/299 (86.0%)<br>CV>100%: 5p=0, 7p=0", "rgba(255,205,218,0.8)")
info_box(576, 67.5, "5p wins: 135/299 (45.2%)<br>CV>100%: 5p=44, 7p=6<br>26 5p outliers capped at 100", "rgba(245,208,175,0.85)")
info_box(838.5, 67, "5p wins: 17/299 (5.7%)<br>CV>100%: 5p=28, 7p=4", "rgba(120,195,185,0.85)")
info_box(49.5, 312, "5p wins: 245/299 (81.9%)<br>CV>100%: 5p=68, 7p=115", "rgba(195,205,220,0.85)")
info_box(313.5, 312, "5p wins: 209/299 (69.9%)<br>CV>100%: 5p=0, 7p=0", "rgba(190,240,185,0.9)")
info_box(576, 313, "7p wins: 288/299<br>(96.3%)", "rgba(255,250,215,0.9)")

# legends
std_items = lambda a, b: [("patch", SHADE, "CV > 100%"), ("line", DIAG, "Equal"),
                          ("line", MEAN5, "Mean 5p=%.3f" % a), ("line", MEAN7, "Mean 7p=%.3f" % b)]
legend_box(42, 226, 103, 257, [231, 238.2, 245.4, 252.6], std_items(mean_5p["alpha"], mean_7p["alpha"]), 45, 55, 58.5)
legend_box(468.5, 226.5, 527, 257, [231, 238.2, 245.4, 252.6], std_items(mean_5p["beta"], mean_7p["beta"]), 471.5, 481.5, 484)
legend_box(731.5, 227, 790.5, 257, [231.5, 238.7, 245.9, 253.1], std_items(mean_5p["A"], mean_7p["A"]), 735, 745, 747.5)
legend_box(831, 143.5, 889, 174, [147.5, 155, 162.6, 170], std_items(mean_5p["B"], mean_7p["B"]), 833.5, 843.5, 846.5)
legend_box(204, 473.5, 263.5, 503.5, [477.5, 484.7, 491.9, 499.1], std_items(mean_5p["param"], mean_7p["param"]), 207.5, 217.5, 220.5)
legend_box(464, 479.5, 526.5, 503, [484, 491.3, 498.6],
           [("line", DIAG, "Equal"), ("line", MEAN5, "Mean 5p=%.3f%%" % mean_5p["gp"]),
            ("line", MEAN7, "Mean 7p=%.3f%%" % mean_7p["gp"])], 467, 477, 479.5)
legend_box(650, 479.5, 707.5, 503.5, [483.7, 491, 498.5],
           [("line", DIAG, "Equal"), ("line", MEAN5, "Mean 5p=%.3f" % mean_5p["r2"]),
            ("line", MEAN7, "Mean 7p=%.3f" % mean_7p["r2"])], 653, 663, 666)
legend_box(994, 485, 1056, 503, [489.5, 497.5],
           [("patch", "rgba(0,0,255,0.7)", "5-param wins"), ("patch", "rgba(255,0,0,0.7)", "7-param wins")],
           997, 1007, 1010.5, fs=5.6)

layout["shapes"] = shapes
layout["annotations"] = annos
fig.update_layout(**layout)
fig.write_html("out.html", include_plotlyjs=True, config={"displayModeBar": False, "staticPlot": True})
